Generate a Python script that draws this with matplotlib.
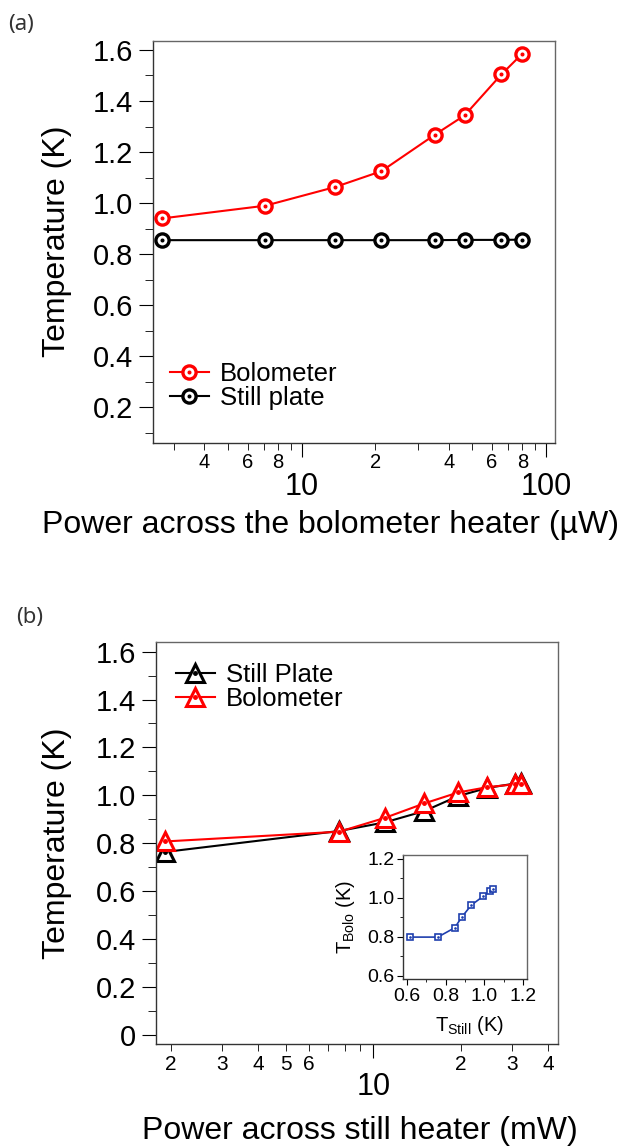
import matplotlib
matplotlib.use('Agg')
import matplotlib.pyplot as plt
from matplotlib.ticker import MultipleLocator, FuncFormatter

plt.rcParams['font.family'] = ['Liberation Sans', 'DejaVu Sans']
plt.rcParams['mathtext.fontset'] = 'custom'
plt.rcParams['mathtext.rm'] = 'Liberation Sans'
plt.rcParams['mathtext.it'] = 'Liberation Sans:italic'

# (a) sweep of the bolometer heater
p_bolo_uW = [2.68, 7.1, 13.7, 21.2, 35.1, 46.5, 65.7, 79.6]
t_bolo_a = [0.940, 0.990, 1.063, 1.125, 1.268, 1.344, 1.504, 1.583]
t_still_a = [0.855, 0.855, 0.855, 0.855, 0.855, 0.856, 0.856, 0.857]

# (b) sweep of the still heater
p_still_mW = [1.907, 7.63, 10.96, 14.96, 19.6, 24.7, 30.7, 32.3]
t_still_b = [0.763, 0.851, 0.887, 0.934, 0.997, 1.031, 1.049, 1.050]
t_bolo_b = [0.807, 0.848, 0.906, 0.966, 1.012, 1.034, 1.046, 1.046]

# inset: bolometer vs still temperature
inset_t_still = [0.619, 0.760, 0.847, 0.885, 0.933, 0.995, 1.029, 1.046]
inset_t_bolo = [0.798, 0.798, 0.846, 0.903, 0.963, 1.009, 1.036, 1.045]

# log axis ticks
a_major = [10, 100]
a_minor = [3, 4, 5, 6, 7, 8, 9, 20, 30, 40, 50, 60, 70, 80, 90]
a_minor_labels = ['', '4', '', '6', '', '8', '', '2', '', '4', '', '6', '', '8', '']
b_major = [10]
b_minor = [2, 3, 4, 5, 6, 7, 8, 9, 20, 30, 40]
b_minor_labels = ['2', '3', '4', '5', '6', '', '', '', '2', '3', '4']

RED = '#ff0000'
BLUE = '#1f3fae'


def series(ax, x, y, color, marker, ms, mew, lw, label):
    line, = ax.plot(x, y, color=color, lw=lw, marker=marker, ms=ms,
                    mfc='white', mec=color, mew=mew, label=label)
    dot, = ax.plot(x, y, ls='none', marker='o', ms=ms * 0.2, color=color)
    return (line, dot)


def style_frame(ax):
    for s in ['left', 'bottom']:
        ax.spines[s].set_color('#333333')
    for s in ['top', 'right']:
        ax.spines[s].set_color('#666666')
    for s in ax.spines.values():
        s.set_linewidth(1.0)


def ylabels(v, pos):
    return '0' if abs(v) < 1e-9 else '%.1f' % v


fig = plt.figure(figsize=(6.22, 11.46), dpi=100)

# ---------------- (a) ----------------
ax1 = fig.add_axes([0.2455, 0.6137, 0.6468, 0.3508])
h_bolo = series(ax1, p_bolo_uW, t_bolo_a, RED, 'o', 9.5, 2.4, 1.5, 'Bolometer')
h_still = series(ax1, p_bolo_uW, t_still_a, 'black', 'o', 9.5, 2.4, 1.5, 'Still plate')
ax1.set_xscale('log')
ax1.set_xlim(2.455, 108.9)
ax1.set_ylim(0.062, 1.636)
ax1.set_xticks(a_major)
ax1.set_xticklabels([str(v) for v in a_major])
ax1.set_xticks(a_minor, minor=True)
ax1.set_xticklabels(a_minor_labels, minor=True)
ax1.yaxis.set_major_locator(MultipleLocator(0.2))
ax1.yaxis.set_minor_locator(MultipleLocator(0.1))
ax1.yaxis.set_major_formatter(FuncFormatter(ylabels))
ax1.tick_params(axis='x', which='major', length=10, pad=11, labelsize=22)
ax1.tick_params(axis='x', which='minor', length=5, pad=2.5, labelsize=14.5)
ax1.tick_params(axis='y', which='major', length=10, pad=4, labelsize=21)
ax1.tick_params(axis='y', which='minor', length=6)
style_frame(ax1)
ax1.set_ylabel('Temperature (K)', fontsize=23)
ax1.yaxis.set_label_coords(-0.20, 0.5)
ax1.set_xlabel('Power across the bolometer heater (µW)', fontsize=23)
ax1.xaxis.set_label_coords(0.443, -0.168)
ax1.legend([h_bolo, h_still], ['Bolometer', 'Still plate'], loc='center left',
           bbox_to_anchor=(0.043, 0.140), frameon=False, fontsize=18.5,
           handlelength=1.5, handletextpad=0.44, labelspacing=0.0,
           borderpad=0, borderaxespad=0)

# ---------------- (b) ----------------
ax2 = fig.add_axes([0.2503, 0.0890, 0.6463, 0.3505])
h_still_b = series(ax2, p_still_mW, t_still_b, 'black', '^', 12.5, 2.2, 1.5, 'Still Plate')
h_bolo_b = series(ax2, p_still_mW, t_bolo_b, RED, '^', 12.5, 2.2, 1.5, 'Bolometer')
ax2.set_xscale('log')
ax2.set_xlim(1.778, 43.1)
ax2.set_ylim(-0.039, 1.639)
ax2.set_xticks(b_major)
ax2.set_xticklabels([str(v) for v in b_major])
ax2.set_xticks(b_minor, minor=True)
ax2.set_xticklabels(b_minor_labels, minor=True)
ax2.yaxis.set_major_locator(MultipleLocator(0.2))
ax2.yaxis.set_minor_locator(MultipleLocator(0.1))
ax2.yaxis.set_major_formatter(FuncFormatter(ylabels))
ax2.tick_params(axis='x', which='major', length=10, pad=10, labelsize=22)
ax2.tick_params(axis='x', which='minor', length=5, pad=3, labelsize=15)
ax2.tick_params(axis='y', which='major', length=10, pad=4, labelsize=21)
ax2.tick_params(axis='y', which='minor', length=6)
style_frame(ax2)
ax2.set_ylabel('Temperature (K)', fontsize=23)
ax2.yaxis.set_label_coords(-0.208, 0.5)
ax2.set_xlabel('Power across still heater (mW)', fontsize=23)
ax2.xaxis.set_label_coords(0.508, -0.178)
ax2.legend([h_still_b, h_bolo_b], ['Still Plate', 'Bolometer'], loc='center left',
           bbox_to_anchor=(0.0505, 0.8895), frameon=False, fontsize=18.5,
           handlelength=1.5, handletextpad=0.44, labelspacing=0.0,
           borderpad=0, borderaxespad=0)

# ---------------- inset ----------------
ax3 = fig.add_axes([0.6474, 0.1455, 0.2003, 0.1085])
ax3.plot(inset_t_still, inset_t_bolo, color=BLUE, lw=1.2, marker='s', ms=4.2,
         mfc='white', mec=BLUE, mew=1.2)
ax3.plot(inset_t_still, inset_t_bolo, ls='none', marker='o', ms=0.9, color=BLUE)
ax3.set_xlim(0.579, 1.221)
ax3.set_ylim(0.581, 1.221)
ax3.xaxis.set_major_locator(MultipleLocator(0.2))
ax3.xaxis.set_minor_locator(MultipleLocator(0.1))
ax3.yaxis.set_major_locator(MultipleLocator(0.2))
ax3.yaxis.set_minor_locator(MultipleLocator(0.1))
ax3.xaxis.set_major_formatter(FuncFormatter(lambda v, p: '%.1f' % v))
ax3.yaxis.set_major_formatter(FuncFormatter(lambda v, p: '%.1f' % v))
ax3.tick_params(which='major', length=4, pad=2, labelsize=14)
ax3.tick_params(which='minor', length=2.5)
style_frame(ax3)
ax3.set_ylabel(r'$\mathrm{T_{Bolo}}$ (K)', fontsize=14.5)
ax3.yaxis.set_label_coords(-0.37, 0.5)
ax3.set_xlabel(r'$\mathrm{T_{Still}}$ (K)', fontsize=14.5)
ax3.xaxis.set_label_coords(0.532, -0.28)

fig.text(0.034, 0.979, '(a)', fontsize=16, family='Noto Sans', color='#333333',
         ha='center', va='center')
fig.text(0.047, 0.461, '(b)', fontsize=16, family='Noto Sans', color='#333333',
         ha='center', va='center')

fig.savefig('out.png', dpi=100)
